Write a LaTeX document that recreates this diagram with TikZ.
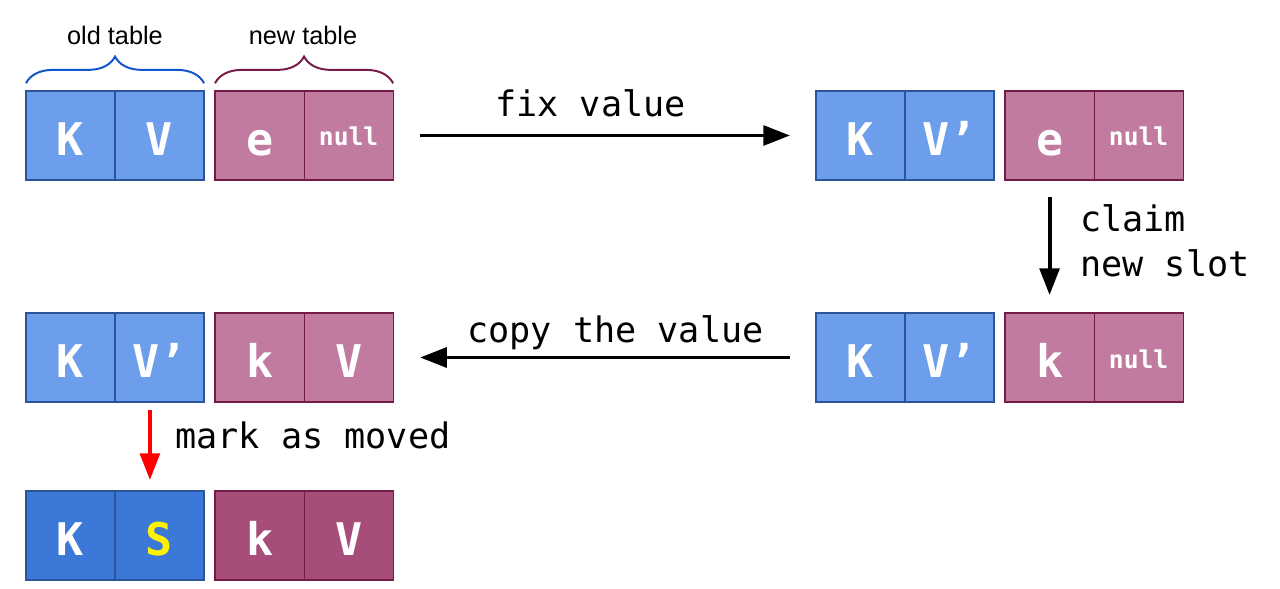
\documentclass[tikz,border=0pt]{standalone}
\usepackage{fontspec}
\setmainfont{Liberation Sans}
\setmonofont{DejaVu Sans Mono}
\usepackage{tikz}
\usetikzlibrary{arrows.meta}
\usetikzlibrary{positioning}
\usetikzlibrary{decorations.pathreplacing}

\definecolor{oldfill}{HTML}{6D9EEB}
\definecolor{oldline}{HTML}{2A5699}
\definecolor{newfill}{HTML}{C27BA0}
\definecolor{newline}{HTML}{741B47}
\definecolor{olddone}{HTML}{3C78D8}
\definecolor{newdone}{HTML}{A64D79}
\definecolor{oldbrace}{HTML}{1155CC}
\definecolor{newbrace}{HTML}{741B47}

\begin{document}
\begin{tikzpicture}
    [
    x=0.025cm, y=-0.025cm,
    cell/.style={rectangle,draw,line width=0.8pt,inner sep=0pt,outer sep=0pt,
      minimum width=2.225cm,minimum height=2.225cm,text=white,
      text height=0.975cm,text depth=0pt,
      font=\ttfamily\bfseries\fontsize{32}{32}\selectfont},
    oldcell/.style={cell,fill=oldfill,draw=oldline},
    newcell/.style={cell,fill=newfill,draw=newline},
    olddonecell/.style={cell,fill=olddone,draw=oldline},
    newdonecell/.style={cell,fill=newdone,draw=newline},
    nullval/.style={text height=0.525cm,font=\ttfamily\bfseries\fontsize{17.5}{17.5}\selectfont},
    tablebrace/.style={decorate,decoration={brace,amplitude=19pt,raise=5.5pt},line width=1.4pt},
    flow/.style={line width=2.8pt,-{Triangle[length=19pt,width=14pt]}},
    steplabel/.style={font=\ttfamily\fontsize{25}{32}\selectfont,inner sep=0pt}
    ]
    \useasboundingbox (0,0) rectangle (1280,589);

    \node (a1k) at (70.5,135.5) [oldcell] {K};
    \node (a1v) [oldcell, right=0pt of a1k] {V};
    \node (a1e) [newcell, right=0.275cm of a1v] {e};
    \node (a1n) [newcell, nullval, right=0pt of a1e] {null};

    \node (b1k) at (860.5,135.5) [oldcell] {K};
    \node (b1v) [oldcell, right=0pt of b1k] {V’};
    \node (b1e) [newcell, right=0.275cm of b1v] {e};
    \node (b1n) [newcell, nullval, right=0pt of b1e] {null};

    \node (b2k) at (860.5,357.5) [oldcell] {K};
    \node (b2v) [oldcell, right=0pt of b2k] {V’};
    \node (b2e) [newcell, right=0.275cm of b2v] {k};
    \node (b2n) [newcell, nullval, right=0pt of b2e] {null};

    \node (a2k) at (70.5,357.5) [oldcell] {K};
    \node (a2v) [oldcell, right=0pt of a2k] {V’};
    \node (a2e) [newcell, right=0.275cm of a2v] {k};
    \node (a2n) [newcell, right=0pt of a2e] {V};

    \node (a3k) at (70.5,535.5) [olddonecell] {K};
    \node (a3v) [olddonecell, text=yellow, right=0pt of a3k] {S};
    \node (a3e) [newdonecell, right=0.275cm of a3v] {k};
    \node (a3n) [newdonecell, right=0pt of a3e] {V};

    \draw [tablebrace, draw=oldbrace] (a1k.north west) to (a1v.north east);
    \draw [tablebrace, draw=newbrace] (a1e.north west) to (a1n.north east);
    \node (oldlbl) at (115,35) [font=\fontsize{18}{18}\selectfont] {old table};
    \node (newlbl) at (303,35) [font=\fontsize{18}{18}\selectfont] {new table};

    \draw [flow, shorten <=0.675cm, shorten >=0.65cm] (a1n) to (b1k);
    \node (fixlbl) at (495,117) [steplabel, anchor=base west] {fix value};

    \draw [flow, shorten <=0.425cm, shorten >=0.45cm] (b1e) to (b2e);
    \node (claimlbl) at (1080,241) [steplabel, anchor=west, align=left] {claim\\new slot};

    \draw [flow, shorten <=0.65cm, shorten >=0.675cm] (b2k) to (a2n);
    \node (copylbl) at (467,342) [steplabel, anchor=base west] {copy the value};

    \draw [flow, red, shorten <=0.2cm, shorten >=0.275cm]
      ([xshift=-0.24cm]a2v.south) to ([xshift=-0.24cm]a3v.north);
    \node (marklbl) at (175,448) [steplabel, anchor=base west] {mark as moved};
\end{tikzpicture}
\end{document}
